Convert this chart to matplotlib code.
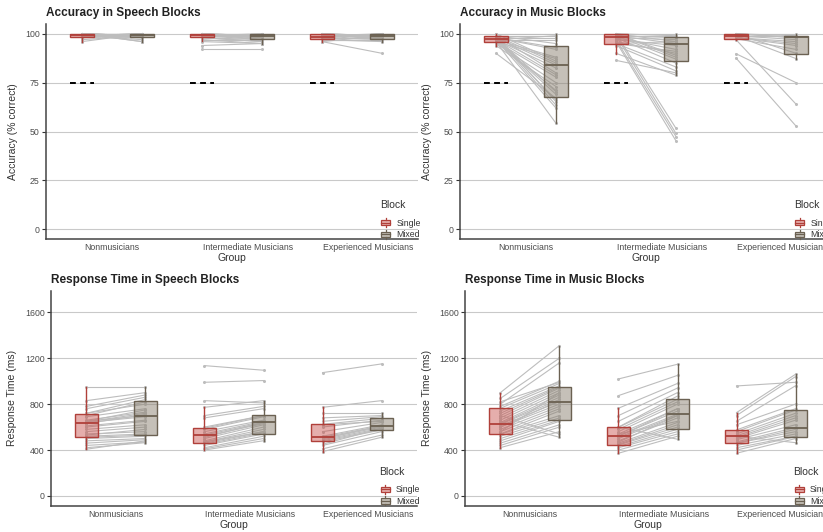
import matplotlib
matplotlib.use("Agg")
import matplotlib.pyplot as plt
from matplotlib.patches import Patch, Rectangle
from matplotlib.lines import Line2D
from matplotlib.legend_handler import HandlerBase

plt.rcParams['font.family'] = ['Liberation Sans', 'DejaVu Sans']

# ------------------------------
# Data
# ------------------------------
groups = ["Nonmusicians", "Intermediate Musicians", "Experienced Musicians"]
blocks = ["Single", "Mixed"]

# accuracy, speech blocks (one list per group, paired by participant)
acc_speech_single = [
    [100, 100, 100, 100, 100, 100, 99, 99, 99, 99, 100, 100, 98, 98, 99, 100, 97, 96, 100, 99, 98, 100, 99, 100],
    [100, 100, 100, 99, 99, 100, 98, 100, 99, 97, 96, 100, 100, 99, 98, 94, 92.3, 100, 99, 100, 100, 98, 97, 99],
    [100, 99, 98, 97, 100, 96, 99, 97, 98, 100, 100, 98, 97, 99, 96, 98, 100, 99, 97, 98],
]
acc_speech_mixed = [
    [100, 99, 100, 100, 99, 100, 100, 99, 98, 100, 99, 100, 99, 100, 97, 96, 99, 100, 96, 98, 100, 99, 100, 99],
    [99, 100, 98, 97, 99, 98, 96, 99, 100, 97, 95, 98, 100, 99, 96, 95, 92.3, 97, 98, 100, 99, 97, 95, 99],
    [99, 98, 100, 97, 99, 90, 98, 97, 100, 99, 98, 97, 96, 100, 99, 98, 97, 99, 100, 98],
]
# box stats: [whisker low, q1, median, q3, whisker high]
acc_speech_box_single = [[96, 98.5, 99.5, 100, 100], [96.5, 98.5, 99.5, 100, 100], [96, 97.5, 98.6, 100, 100]]
acc_speech_box_mixed = [[96, 98.5, 99.5, 100, 100], [95, 97.5, 99, 100, 100], [96, 97.5, 99, 100, 100]]

# accuracy, music blocks
acc_music_single = [
    [100, 99, 98, 97, 99, 98, 97, 96, 100, 98, 97, 99, 96, 95, 94, 98, 97, 90, 99, 98, 97, 96, 98, 99, 97, 96, 98, 97],
    [100, 100, 99, 100, 98, 99, 97, 95, 96, 100, 99, 98, 95, 94, 90, 86.4, 100, 99, 97, 96, 95, 99, 98, 100],
    [100, 100, 99, 100, 99, 98, 98, 97.5, 100, 99, 89.8, 87.6, 99, 100, 98, 97, 99],
]
acc_music_mixed = [
    [100, 99, 98, 97, 95, 93, 88, 87.3, 86, 84, 82.5, 80, 77.8, 75, 73, 70.3, 69, 67, 65.2, 63.5, 62, 54.2, 92, 85, 79, 71, 66, 99],
    [100, 99, 98, 96, 97, 95, 94, 91, 90, 89, 87, 85, 83, 81, 78.8, 80, 51.6, 49, 47.4, 45.2, 96, 99, 92, 88],
    [100, 99, 99, 98, 97, 95, 94, 92, 90, 87.3, 75, 52.8, 99, 98, 96, 64, 99],
]
acc_music_box_single = [[94, 96, 97.5, 99, 100], [89.8, 94.9, 98.5, 100, 100], [96.6, 97.4, 98.8, 100, 100]]
acc_music_box_mixed = [[54.2, 67.7, 84, 93.7, 100], [78.8, 86, 94.9, 98.6, 100], [87.3, 89.8, 98.6, 98.8, 100]]

# response time (ms), speech blocks
rt_speech_single = [
    [952, 830, 780, 760, 720, 700, 690, 660, 650, 645, 640, 630, 600, 580, 560, 540, 520, 510, 500, 480, 460, 440, 420, 407, 720, 650, 610, 530],
    [1135, 990, 830, 772, 700, 680, 600, 580, 560, 540, 530, 520, 500, 480, 470, 460, 450, 440, 420, 410, 400, 590, 510, 470],
    [1074, 772, 720, 680, 650, 624, 600, 560, 520, 511, 500, 490, 481, 470, 440, 410, 386, 620, 500, 450],
]
rt_speech_mixed = [
    [952, 900, 880, 860, 840, 820, 760, 730, 700, 720, 690, 710, 650, 620, 600, 560, 540, 530, 520, 500, 490, 470, 464, 480, 800, 750, 660, 580],
    [1095, 1005, 810, 830, 780, 760, 700, 690, 660, 650, 640, 630, 620, 600, 580, 560, 550, 540, 520, 500, 481, 700, 640, 560],
    [1150, 830, 720, 700, 690, 676, 660, 640, 620, 610, 600, 590, 580, 575, 560, 530, 511, 650, 610, 590],
]
rt_speech_box_single = [[407, 511, 639, 712, 952], [400, 459, 534, 589, 772], [386, 481, 511, 624, 772]]
rt_speech_box_mixed = [[464, 529, 697, 830, 952], [481, 540, 647, 703, 830], [511, 575, 610, 676, 720]]

# response time (ms), music blocks
rt_music_single = [
    [900, 850, 800, 780, 764, 740, 720, 700, 680, 660, 640, 630, 625, 610, 600, 580, 560, 540, 538, 520, 500, 480, 460, 440, 421, 700, 650, 560, 600, 820],
    [1019, 874, 764, 700, 650, 600, 598, 580, 560, 540, 523, 510, 500, 480, 460, 450, 444, 430, 420, 400, 372, 600, 520, 470, 540],
    [958, 726, 700, 650, 620, 575, 560, 540, 523, 510, 500, 490, 470, 460, 459, 440, 420, 400, 372, 520],
]
rt_music_mixed = [
    [1310, 1200, 1160, 1000, 980, 960, 950, 940, 920, 900, 880, 860, 840, 822, 800, 780, 760, 740, 700, 680, 662, 650, 620, 600, 560, 540, 511, 900, 830, 990],
    [1147, 1050, 980, 940, 900, 870, 842, 820, 800, 760, 740, 712, 700, 680, 640, 620, 600, 581, 560, 540, 520, 494, 760, 700, 650],
    [990, 1060, 1040, 960, 800, 760, 749, 720, 700, 680, 660, 620, 596, 580, 560, 540, 520, 517, 500, 464],
]
rt_music_box_single = [[421, 538, 625, 764, 900], [372, 444, 523, 598, 764], [372, 459, 523, 575, 726]]
rt_music_box_mixed = [[511, 662, 822, 952, 1310], [494, 581, 712, 842, 1147], [464, 517, 596, 749, 1060]]

# ------------------------------
# Styling
# ------------------------------
SINGLE_EDGE = '#B0403A'
SINGLE_FACE = (0.78, 0.30, 0.28, 0.45)
MIXED_EDGE = '#6B6152'
MIXED_FACE = (0.55, 0.51, 0.45, 0.50)
POINT_GRAY = '#bdbdbd'
GRID_GRAY = '#c9c9c9'
TEXT_GRAY = '#4d4d4d'

DODGE = 0.25
BOX_W = 0.2
LABEL_SHIFT = [0.0, 0.135, 0.135]


class BoxKey(HandlerBase):
    """Small boxplot glyph for the legend, like ggplot's key."""

    def create_artists(self, legend, orig_handle, xdescent, ydescent,
                       width, height, fontsize, trans):
        face = orig_handle.get_facecolor()
        edge = orig_handle.get_edgecolor()
        bx = -xdescent + width * 0.1
        bw = width * 0.8
        by = -ydescent + height * 0.2
        bh = height * 0.6
        rect = Rectangle((bx, by), bw, bh, facecolor=face, edgecolor=edge,
                         linewidth=0.9, transform=trans)
        cx = bx + bw / 2
        mid = Line2D([bx, bx + bw], [by + bh / 2] * 2, color=edge, lw=0.9, transform=trans)
        top = Line2D([cx, cx], [by + bh, -ydescent + height * 1.0], color=edge, lw=0.9, transform=trans)
        bot = Line2D([cx, cx], [-ydescent, by], color=edge, lw=0.9, transform=trans)
        return [top, bot, rect, mid]


def to_stats(box):
    lo, q1, med, q3, hi = box
    return dict(whislo=lo, q1=q1, med=med, q3=q3, whishi=hi, fliers=[])


def draw_panel(ax, single, mixed, box_single, box_mixed, title, ylabel,
               yticks, ylim, ylab_x, chance=None):
    # paired participant lines + points
    for g in range(len(groups)):
        for s, m in zip(single[g], mixed[g]):
            ax.plot([g - DODGE, g + DODGE], [s, m], color=POINT_GRAY, lw=0.8,
                    marker='o', ms=2.2, mfc=POINT_GRAY, mec='none', zorder=2)

    pos = list(range(len(groups)))
    for boxes, off, face, edge in [(box_single, -DODGE, SINGLE_FACE, SINGLE_EDGE),
                                   (box_mixed, DODGE, MIXED_FACE, MIXED_EDGE)]:
        ax.bxp([to_stats(b) for b in boxes], positions=[p + off for p in pos],
               widths=BOX_W, patch_artist=True, showfliers=False, showcaps=False,
               boxprops=dict(facecolor=face, edgecolor=edge, linewidth=1.0),
               medianprops=dict(color=edge, linewidth=1.3),
               whiskerprops=dict(color=edge, linewidth=1.0),
               manage_ticks=False, zorder=3)

    if chance is not None:
        ax.hlines([chance] * len(pos), [p - DODGE - BOX_W / 2 for p in pos],
                  [p - DODGE + BOX_W / 2 for p in pos], colors='black',
                  linewidth=1.4, linestyles=(0, (3.0, 2.2)), zorder=4)

    ax.set_xlim(-0.55, 2.55)
    ax.set_ylim(*ylim)
    ax.set_yticks(yticks)
    ax.set_xticks([p + d for p, d in zip(pos, LABEL_SHIFT)])
    ax.set_xticklabels(groups)
    ax.tick_params(axis='x', length=0, pad=3, labelsize=6.3, labelcolor=TEXT_GRAY)
    ax.tick_params(axis='y', length=3, width=0.8, color='#333333', pad=1.5,
                   labelsize=6.3, labelcolor=TEXT_GRAY)
    ax.grid(axis='y', color=GRID_GRAY, linewidth=0.8, zorder=0)
    ax.set_axisbelow(True)
    for side in ['top', 'right']:
        ax.spines[side].set_visible(False)
    for side in ['left', 'bottom']:
        ax.spines[side].set_color('#444444')
        ax.spines[side].set_linewidth(1.1)

    ax.set_title(title, loc='left', fontsize=8.5, fontweight='bold',
                 color='#222222', pad=6)
    ax.set_ylabel(ylabel, fontsize=7.5, color='#333333')
    ax.yaxis.set_label_coords(ylab_x, 0.5)
    ax.set_xlabel('Group', fontsize=7.5, color='#333333')
    ax.xaxis.set_label_coords(0.5, -0.065)

    handles = [Patch(facecolor=SINGLE_FACE, edgecolor=SINGLE_EDGE, label=blocks[0]),
               Patch(facecolor=MIXED_FACE, edgecolor=MIXED_EDGE, label=blocks[1])]
    leg = ax.legend(handles=handles, title='Block', loc='lower left',
                    bbox_to_anchor=(0.895, -0.005), frameon=False, fontsize=6.3,
                    title_fontsize=7.5, alignment='left', handlelength=1.35,
                    handleheight=1.2, handletextpad=0.55, labelspacing=0.25,
                    borderpad=0.1, borderaxespad=0.0,
                    handler_map={Patch: BoxKey()})
    leg.get_title().set_color('#333333')
    leg._legend_box.sep = 6
    for t in leg.get_texts():
        t.set_color('#333333')
    leg.set_zorder(5)


W, H = 823, 532
fig = plt.figure(figsize=(W / 100, H / 100), dpi=100)


def px_axes(left, top, right, bottom):
    return fig.add_axes([left / W, (H - bottom) / H, (right - left) / W, (bottom - top) / H])


ax_tl = px_axes(46, 24, 418, 239)
ax_tr = px_axes(460, 24, 832, 239)
ax_bl = px_axes(51, 291, 417, 505.7)
ax_br = px_axes(465, 291, 831, 505.7)

acc_ticks = [0, 25, 50, 75, 100]
rt_ticks = [0, 400, 800, 1200, 1600]

draw_panel(ax_tl, acc_speech_single, acc_speech_mixed, acc_speech_box_single,
           acc_speech_box_mixed, 'Accuracy in Speech Blocks', 'Accuracy (% correct)',
           acc_ticks, (-5, 105), -0.075, chance=75)
draw_panel(ax_tr, acc_music_single, acc_music_mixed, acc_music_box_single,
           acc_music_box_mixed, 'Accuracy in Music Blocks', 'Accuracy (% correct)',
           acc_ticks, (-5, 105), -0.075, chance=75)
draw_panel(ax_bl, rt_speech_single, rt_speech_mixed, rt_speech_box_single,
           rt_speech_box_mixed, 'Response Time in Speech Blocks', 'Response Time (ms)',
           rt_ticks, (-85, 1785), -0.093)
draw_panel(ax_br, rt_music_single, rt_music_mixed, rt_music_box_single,
           rt_music_box_mixed, 'Response Time in Music Blocks', 'Response Time (ms)',
           rt_ticks, (-85, 1785), -0.09)

fig.savefig('out.png', dpi=100)
